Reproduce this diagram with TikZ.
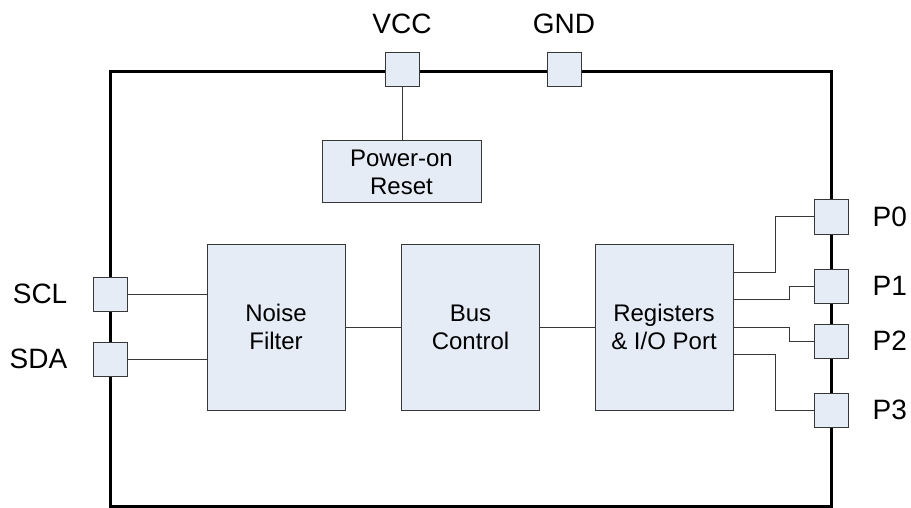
\documentclass[tikz,border=0pt]{standalone}
\usepackage{fontspec}
\setmainfont{Liberation Sans}
\usepackage{tikz}
\usetikzlibrary{positioning}
\definecolor{blockfill}{RGB}{230,236,246}
\definecolor{edgegray}{RGB}{55,55,55}

\begin{document}
\begin{tikzpicture}[
        x=1pt, y=-1pt,
        block/.style={
            rectangle, draw=edgegray, fill=blockfill, line width=1pt,
            align=center, font=\fontsize{24}{28}\selectfont, inner sep=0pt,
            minimum width=138pt, minimum height=166pt
        },
        pad/.style={
            rectangle, draw=edgegray, fill=blockfill, line width=1pt,
            minimum size=34pt, inner sep=0pt
        },
        padlabel/.style={
            font=\fontsize{28}{32}\selectfont, inner sep=0pt
        },
        frame/.style={
            draw=black, line width=3pt
        },
        wire/.style={
            draw=edgegray, line width=1pt
        }
    ]

    \useasboundingbox (0,0) rectangle (911,508);

    % Chip outline
    \draw[frame] (110,72) rectangle (831,506);

    % Function blocks
    \node[block] (noise) at (276, 327) {Noise\\Filter};
    \node[block] (bus) at (470.5, 327) {Bus\\Control};
    \node[block] (regs) at (664, 327) {Registers\\\& I/O Port};
    \node[block, minimum width=159pt, minimum height=62pt] (por) at (401.5, 172) {Power-on\\Reset};

    % Pads on the outline
    \node[pad] (vcc) at (402, 70) {};
    \node[pad] (gnd) at (564, 70) {};
    \node[pad] (scl) at (110, 294) {};
    \node[pad] (sda) at (110, 359) {};
    \node[pad] (p0) at (831, 217) {};
    \node[pad] (p1) at (831, 286) {};
    \node[pad] (p2) at (831, 341) {};
    \node[pad] (p3) at (831, 410) {};

    % Pad names
    \node[padlabel, above=19pt of vcc] (vcclabel) {VCC};
    \node[padlabel, above=19pt of gnd] (gndlabel) {GND};
    \node[padlabel, left=25pt of scl] (scllabel) {SCL};
    \node[padlabel, left=25pt of sda] (sdalabel) {SDA};
    \node[padlabel, right=24pt of p0] (p0label) {P0};
    \node[padlabel, right=24pt of p1] (p1label) {P1};
    \node[padlabel, right=24pt of p2] (p2label) {P2};
    \node[padlabel, right=24pt of p3] (p3label) {P3};

    % Connections
    \draw[wire] (vcc.south) -- (vcc.south |- por.north);
    \draw[wire] (scl.east) -- (scl.east -| noise.west);
    \draw[wire] (sda.east) -- (sda.east -| noise.west);
    \draw[wire] (noise.east) -- (bus.west);
    \draw[wire] (bus.east) -- (regs.west);
    \draw[wire] ([yshift=55pt]regs.east) -- ++(42,0) |- (p0.west);
    \draw[wire] ([yshift=28pt]regs.east) -- ++(56,0) |- (p1.west);
    \draw[wire] (regs.east) -- ++(56,0) |- (p2.west);
    \draw[wire] ([yshift=-27pt]regs.east) -- ++(42,0) |- (p3.west);

\end{tikzpicture}
\end{document}
